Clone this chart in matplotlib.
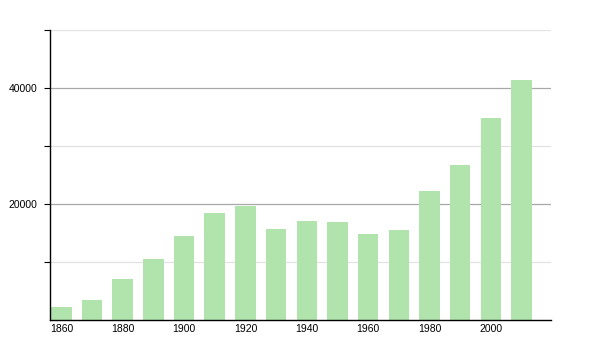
import numpy as np
import matplotlib
matplotlib.use("Agg")
import matplotlib.pyplot as plt
from matplotlib.ticker import FixedLocator, NullFormatter

years = [1860, 1870, 1880, 1890, 1900, 1910, 1920, 1930,
         1940, 1950, 1960, 1970, 1980, 1990, 2000, 2010]
population = [2290, 3450, 7130, 10510, 14480, 18450, 19650, 15690,
              17070, 16900, 14830, 15520, 22240, 26670, 34830, 41380]
xtick_years = [1860, 1880, 1900, 1920, 1940, 1960, 1980, 2000]
major_y = [20000, 40000]
minor_y = [10000, 30000, 50000]

plt.rcParams['font.family'] = ['Liberation Sans', 'DejaVu Sans']

fig = plt.figure(figsize=(6, 3.5), dpi=100)
ax = fig.add_axes([50/600, 30/350, 501/600, 290/350])

ax.bar(years, population, width=6.7, color='#b1e3ad', zorder=2)

ax.set_xlim(1856.3, 2019.6)
ax.set_ylim(0, 50000)

ax.set_xticks(xtick_years)
ax.set_xticklabels([str(y) for y in xtick_years])
ax.tick_params(axis='x', length=0, pad=3, labelsize=7.5)

ax.yaxis.set_major_locator(FixedLocator(major_y))
ax.yaxis.set_minor_locator(FixedLocator(minor_y))
ax.yaxis.set_minor_formatter(NullFormatter())
ax.tick_params(axis='y', which='both', length=4.3, width=0.8, color='black',
               pad=5, labelsize=7.5)

ax.grid(axis='y', which='major', color='#a8a8a8', linewidth=0.9, zorder=0)
ax.grid(axis='y', which='minor', color='#e2e2e2', linewidth=0.9, zorder=0)
ax.set_axisbelow(True)

for side in ['top', 'right']:
    ax.spines[side].set_visible(False)
ax.spines['left'].set_linewidth(1)
ax.spines['bottom'].set_linewidth(1)

fig.savefig("out.png", dpi=100)
